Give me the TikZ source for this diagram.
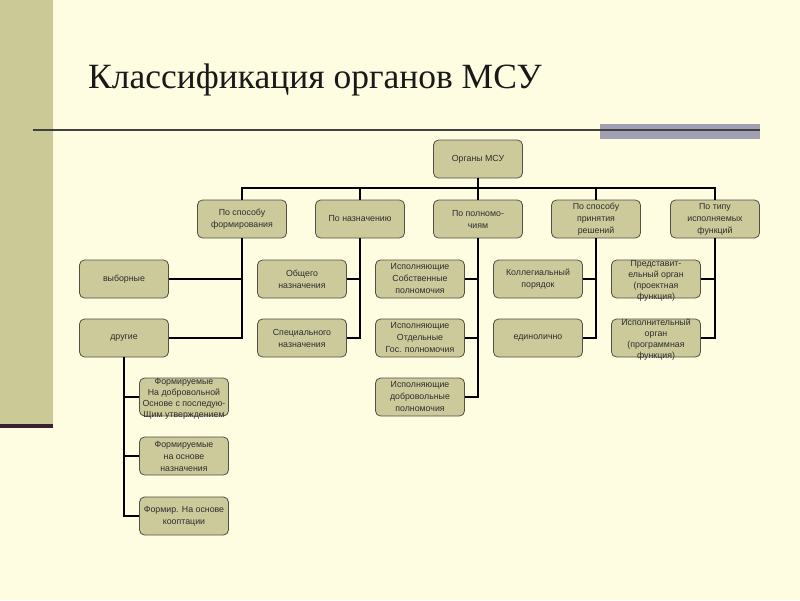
\documentclass[tikz,border=0pt]{standalone}
\usepackage{fontspec}
\setmainfont{Liberation Serif}
\newfontfamily\boxfont{Liberation Sans}
\definecolor{bgc}{RGB}{255,253,225}
\definecolor{barc}{RGB}{203,201,150}
\definecolor{boxc}{RGB}{204,202,155}
\definecolor{bordc}{RGB}{80,80,70}
\definecolor{darkln}{RGB}{58,31,48}
\definecolor{bandc}{RGB}{160,160,178}
\definecolor{txtc}{RGB}{45,45,45}
\newcommand{\ovtext}[1]{\smash{\lower4pt\hbox{\fontsize{8.8}{11}\selectfont\begin{tabular}{@{}c@{}}#1\end{tabular}}}}
\begin{document}
\begin{tikzpicture}[x=1pt,y=-1pt,
  ebox/.style={draw=bordc,line width=0.8pt,fill=boxc,rounded corners=5pt,
    minimum width=89pt,minimum height=38pt,align=center,inner sep=1pt,
    font=\boxfont\fontsize{8.8}{12}\selectfont,text=txtc},
  conn/.style={draw=black,line width=2.5pt}]
\useasboundingbox (0,0) rectangle (800,600);
\fill[bgc] (0,0) rectangle (800,600);
\fill[barc] (0,0) rectangle (53,425);
\fill[darkln] (0,424) rectangle (53,428);
\fill[bandc] (600,124) rectangle (760,139);
\draw[line width=2pt,color=black!75] (33,130) -- (760,130);
\node[anchor=base west,font=\fontsize{35.5}{40}\selectfont,text=black!90,inner sep=0pt] (title) at (88,88) {Классификация органов МСУ};
% nodes
\node[ebox] (root) at (478,159) {Органы МСУ};
\node[ebox] (c1) at (242,219) {По способу\\формирования};
\node[ebox] (c2) at (360,219) {По назначению};
\node[ebox] (c3) at (478,219) {По полномо-\\чиям};
\node[ebox] (c4) at (596,219) {По способу\\принятия\\решений};
\node[ebox] (c5) at (715,219) {По типу\\исполняемых\\функций};
\node[ebox] (a1) at (124,279) {выборные};
\node[ebox] (a2) at (124,338) {другие};
\node[ebox] (b1) at (302,279) {Общего\\назначения};
\node[ebox] (b2) at (302,338) {Специального\\назначения};
\node[ebox] (p1) at (420,279) {Исполняющие\\Собственные\\полномочия};
\node[ebox] (p2) at (420,338) {Исполняющие\\Отдельные\\Гос. полномочия};
\node[ebox] (p3) at (420,397) {Исполняющие\\добровольные\\полномочия};
\node[ebox] (r1) at (538,279) {Коллегиальный\\порядок};
\node[ebox] (r2) at (538,338) {единолично};
\node[ebox] (f1) at (656,279) {\ovtext{Представит-\\ельный орган\\(проектная\\функция)}};
\node[ebox] (f2) at (656,338) {\ovtext{Исполнительный\\орган\\(программная\\функция)}};
\node[ebox] (o1) at (184,397) {\ovtext{Формируемые\\На добровольной\\Основе с последую-\\Щим утверждением}};
\node[ebox] (o2) at (184,456) {Формируемые\\на основе\\назначения};
\node[ebox] (o3) at (184,516) {Формир. На основе\\кооптации};
\coordinate (bus) at (478,188);
% connectors
\draw[conn] (root.south) -- (bus);
\draw[conn] (c1.north) |- (bus) -| (c5.north);
\draw[conn] (c2.north) -- (c2.north |- bus);
\draw[conn] (c3.north) -- (bus);
\draw[conn] (c4.north) -- (c4.north |- bus);
\draw[conn] (c1.south) |- (a2.east);
\draw[conn] (a1.east) -- (a1.east -| c1.south);
\draw[conn] (c2.south) |- (b2.east);
\draw[conn] (b1.east) -- (b1.east -| c2.south);
\draw[conn] (c3.south) |- (p3.east);
\draw[conn] (p1.east) -- (p1.east -| c3.south);
\draw[conn] (p2.east) -- (p2.east -| c3.south);
\draw[conn] (c4.south) |- (r2.east);
\draw[conn] (r1.east) -- (r1.east -| c4.south);
\draw[conn] (c5.south) |- (f2.east);
\draw[conn] (f1.east) -- (f1.east -| c5.south);
\draw[conn] (a2.south) |- (o3.west);
\draw[conn] (o1.west) -- (o1.west -| a2.south);
\draw[conn] (o2.west) -- (o2.west -| a2.south);
\end{tikzpicture}
\end{document}
